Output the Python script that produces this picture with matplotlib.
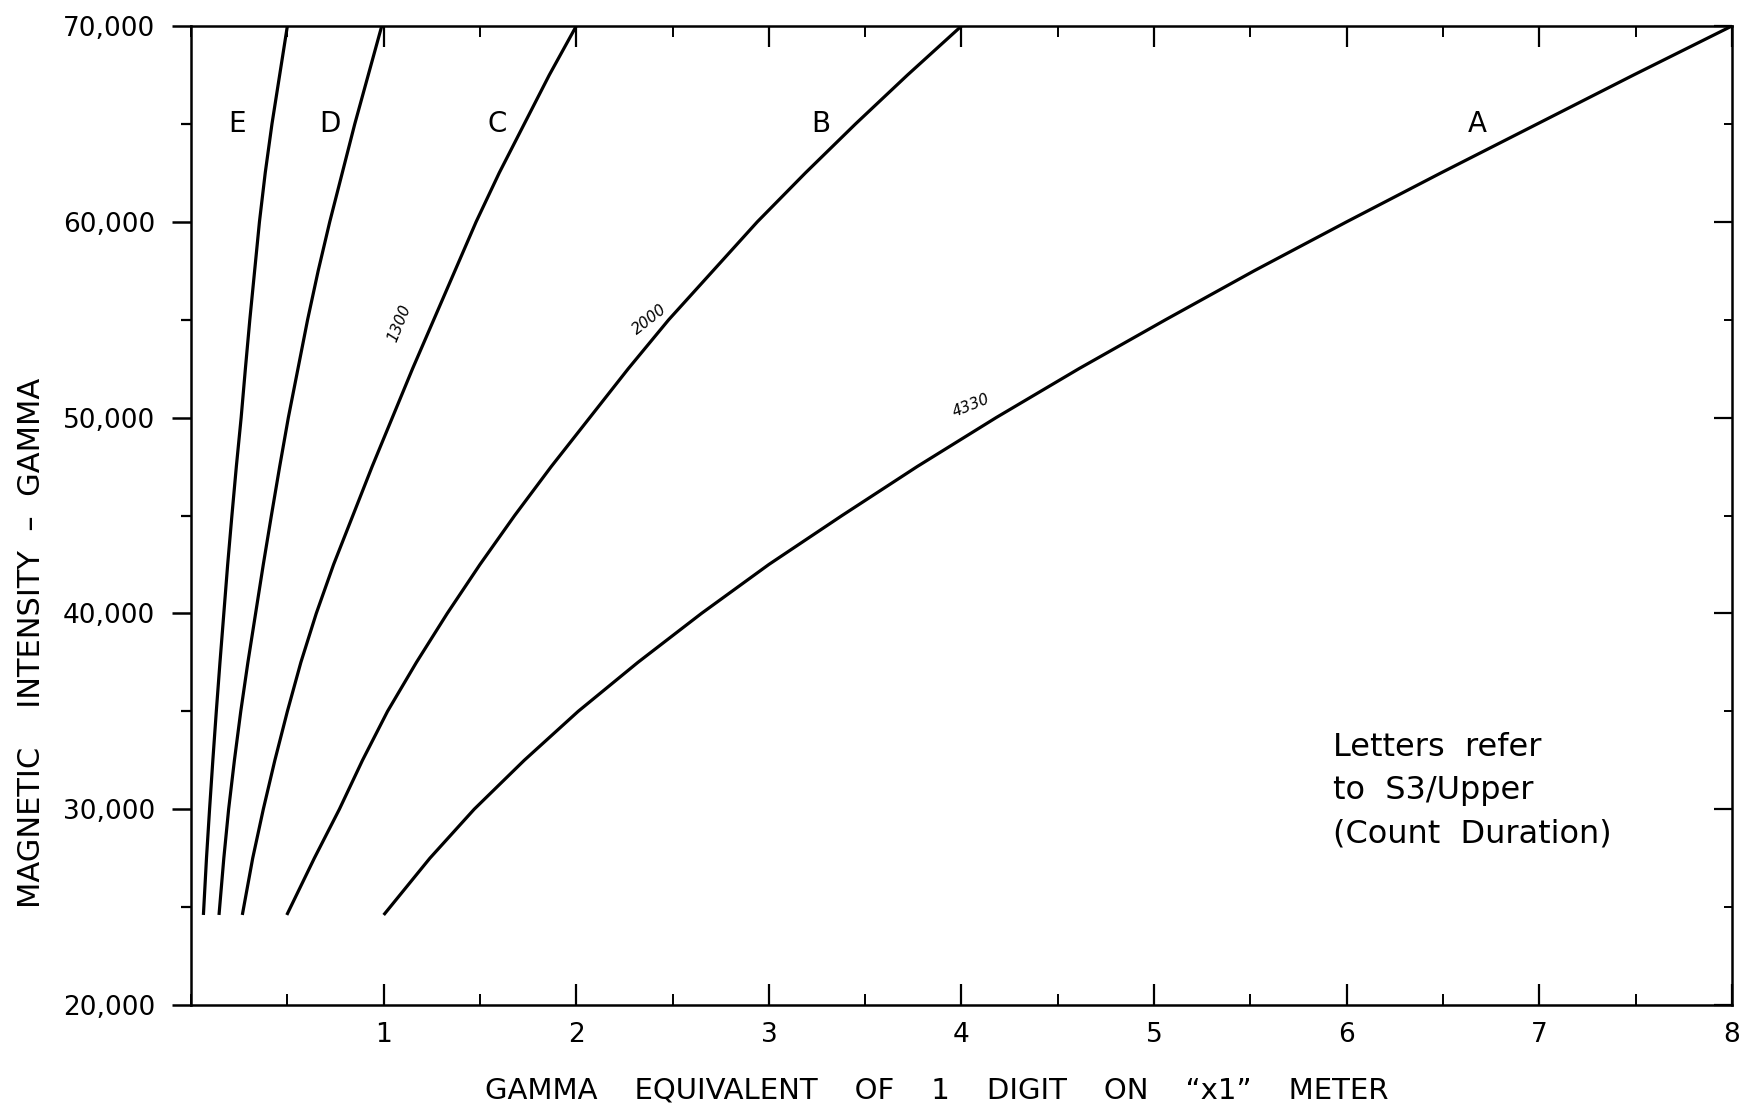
import numpy as np
import matplotlib
matplotlib.use('Agg')
import matplotlib.pyplot as plt
from matplotlib.ticker import MultipleLocator, FixedLocator, FuncFormatter

#=======================================================================================
# Values
#=======================================================================================

field = [24600, 27500, 30000, 32500, 35000, 37500, 40000, 42500, 45000, 47500,
		 50000, 52500, 55000, 57500, 60000, 62500, 65000, 67500, 70000]

curve_a = [1.00, 1.24, 1.47, 1.73, 2.01, 2.32, 2.65, 3.00, 3.38, 3.77,
		   4.18, 4.61, 5.06, 5.52, 6.00, 6.49, 6.99, 7.49, 8.00]
curve_b = [0.497, 0.64, 0.77, 0.89, 1.02, 1.17, 1.33, 1.50, 1.68, 1.87,
		   2.07, 2.27, 2.48, 2.71, 2.94, 3.19, 3.45, 3.72, 4.00]
curve_c = [0.266, 0.32, 0.375, 0.435, 0.50, 0.57, 0.65, 0.74, 0.84, 0.94,
		   1.045, 1.15, 1.26, 1.37, 1.48, 1.60, 1.73, 1.86, 2.00]
curve_d = [0.145, 0.17, 0.195, 0.225, 0.258, 0.295, 0.335, 0.375, 0.417, 0.46,
		   0.505, 0.555, 0.605, 0.66, 0.72, 0.785, 0.85, 0.92, 0.99]
curve_e = [0.064, 0.08, 0.096, 0.113, 0.131, 0.15, 0.17, 0.19, 0.212, 0.235,
		   0.26, 0.282, 0.305, 0.33, 0.355, 0.385, 0.42, 0.46, 0.50]

curve_names = ['A', 'B', 'C', 'D', 'E']
label_x = [6.68, 3.27, 1.59, 0.72, 0.24]
label_y = 65000

x_ticks = [1, 2, 3, 4, 5, 6, 7, 8]
y_ticks = [20000, 30000, 40000, 50000, 60000, 70000]

# handwritten notes on the curves
notes = ['1300', '2000', '4330']
note_x = [1.08, 2.38, 4.05]
note_y = [54800, 55000, 50600]
note_rot = [68, 38, 22]

#=======================================================================================
# Figure
#=======================================================================================

plt.rcParams['font.family'] = ['DejaVu Sans']

fig = plt.figure(figsize=(17.45, 11.06), dpi=100)
ax = fig.add_axes([0.1095, 0.0913, 0.883, 0.8852])

for xs in [curve_a, curve_b, curve_c, curve_d, curve_e]:
	ax.plot(xs, field, '-', color='k', linewidth=2.3, solid_capstyle='butt')

for idx, name in enumerate(curve_names):
	ax.text(label_x[idx], label_y, name, fontsize=20, ha='center', va='center')

for idx, note in enumerate(notes):
	ax.text(note_x[idx], note_y[idx], note, fontsize=11, style='italic',
			rotation=note_rot[idx], ha='center', va='center')

ax.text(5.93, 30950, "Letters  refer\nto  S3/Upper\n(Count  Duration)", fontsize=23,
		ha='left', va='center', linespacing=1.5)

ax.set_xlim(0, 8)
ax.set_ylim(20000, 70000)

ax.xaxis.set_major_locator(FixedLocator(x_ticks))
ax.xaxis.set_minor_locator(MultipleLocator(0.5))
ax.yaxis.set_major_locator(FixedLocator(y_ticks))
ax.yaxis.set_minor_locator(MultipleLocator(5000))
ax.yaxis.set_major_formatter(FuncFormatter(lambda v, p: f"{int(v):,}"))

for sp in ax.spines.values():
	sp.set_linewidth(1.8)

ax.tick_params(axis='x', which='major', direction='in', length=15, width=1.6,
			   top=True, labelsize=19, pad=12)
ax.tick_params(axis='x', which='minor', direction='in', length=8, width=1.4, top=True)
ax.tick_params(axis='y', which='major', direction='out', length=14, width=1.8,
			   labelsize=19, pad=12)
ax.tick_params(axis='y', which='minor', direction='out', length=7, width=1.6)

# right side ticks point inwards, so draw them on a twin axis
ax2 = ax.twinx()
ax2.set_ylim(20000, 70000)
ax2.yaxis.set_major_locator(FixedLocator(y_ticks))
ax2.yaxis.set_minor_locator(MultipleLocator(5000))
ax2.tick_params(axis='y', which='major', direction='in', length=13, width=1.6, labelright=False)
ax2.tick_params(axis='y', which='minor', direction='in', length=6, width=1.4)
for sp in ax2.spines.values():
	sp.set_visible(False)

ax.set_xlabel('GAMMA    EQUIVALENT    OF    1    DIGIT    ON    \u201cx1\u201d    METER', fontsize=21)
ax.xaxis.set_label_coords(0.484, -0.073)
ax.set_ylabel('MAGNETIC    INTENSITY  \u2013  GAMMA', fontsize=22)
ax.yaxis.set_label_coords(-0.094, 0.37)

plt.savefig('out.png', dpi=100)
plt.close()
